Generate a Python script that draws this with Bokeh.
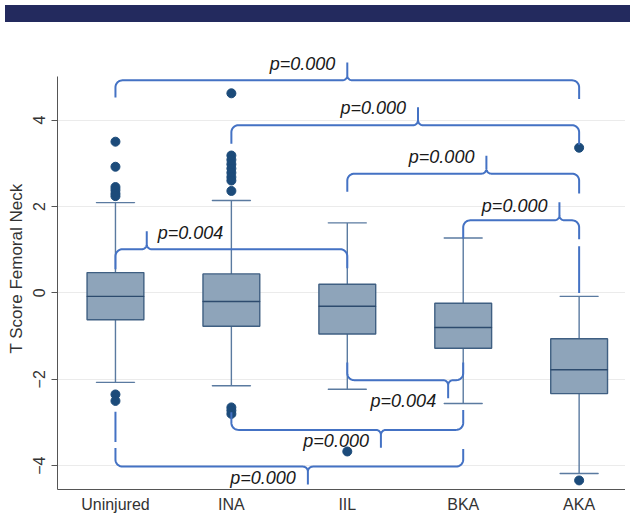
import numpy as np
from bokeh.plotting import figure
from bokeh.models import FixedTicker, Range1d, Div, ColumnDataSource
from bokeh.layouts import column
from bokeh.embed import file_html
from bokeh.resources import INLINE
from bokeh.core.properties import value

# ---------------- data ----------------
categories = ["Uninjured", "INA", "IIL", "BKA", "AKA"]
lower_whisker = [-2.07, -2.15, -2.23, -2.56, -4.18]
q1 = [-0.62, -0.77, -0.95, -1.28, -2.33]
median = [-0.08, -0.20, -0.31, -0.80, -1.78]
q3 = [0.47, 0.44, 0.20, -0.24, -1.06]
upper_whisker = [2.09, 2.14, 1.62, 1.27, -0.08]

outlier_group = (["Uninjured"] * 8 + ["INA"] * 12 + ["IIL"] + ["AKA"] * 2)
outlier_value = [3.50, 2.92, 2.45, 2.38, 2.30, 2.24, -2.35, -2.50,
                 4.62, 3.18, 3.08, 2.98, 2.88, 2.78, 2.68, 2.60, 2.36, -2.65, -2.72, -2.80,
                 -3.67,
                 3.36, -4.34]

y_ticks = [-4, -2, 0, 2, 4]
y_axis_top = 5.0

# significance brackets (annotations)
bracket_left = ["Uninjured", "INA", "IIL", "Uninjured", "BKA", "IIL", "INA", "Uninjured"]
bracket_right = ["AKA", "AKA", "AKA", "IIL", "AKA", "BKA", "BKA", "BKA"]
bracket_level = [4.92, 3.88, 2.76, 1.01, 1.68, -2.02, -3.17, -4.02]
bracket_end_left = [4.52, 3.45, 2.34, 0.55, 1.26, -1.61, -2.76, -3.59]
bracket_end_right = [4.49, 3.43, 2.30, 0.57, 1.24, -1.61, -2.71, -3.61]
bracket_tip = [3.00, 3.61, 4.20, 1.27, 4.83, 3.87, 3.29, 2.66]
bracket_dir = [1, 1, 1, 1, 1, -1, -1, -1]
bracket_label = ["p=0.000", "p=0.000", "p=0.000", "p=0.004", "p=0.000",
                 "p=0.004", "p=0.000", "p=0.000"]
label_side = ["left", "left", "left", "right", "left", "left", "left", "left"]
label_dy = [16, 17, 17, 16, 14, -21, -11, -11]

extra_seg_x = ["AKA", "Uninjured"]
extra_seg_y0 = [1.08, -2.75]
extra_seg_y1 = [0.00, -3.45]

# ---------------- styles ----------------
BOX_FILL = "#8ea4ba"
BOX_LINE = "#3f5f82"
MED_LINE = "#2d4b6e"
WHISK = "#5a7aa0"
DOT = "#1c4b7a"
BRACE = "#4472c4"
FONT = "Liberation Sans"

xi = {c: i + 1 for i, c in enumerate(categories)}
xs = [xi[c] for c in categories]

X0, X1 = 0.5, 5.40
Y0, Y1 = -4.55, 5.68
p = figure(width=625, height=488, x_range=Range1d(X0, X1), y_range=Range1d(Y0, Y1),
           output_backend="svg", toolbar_location=None,
           min_border_left=57, min_border_right=0, min_border_top=20, min_border_bottom=24)
p.outline_line_color = None

# approximate pixel scales for brace curves
PX_X = 568 / (X1 - X0)
PX_Y = 443 / (Y1 - Y0)

# grid
p.xgrid.grid_line_color = None
p.ygrid.grid_line_color = "#ebebeb"
p.ygrid.ticker = FixedTicker(ticks=y_ticks)

# axes
p.xaxis.ticker = FixedTicker(ticks=xs)
p.xaxis.major_label_overrides = {xi[c]: c for c in categories}
p.xaxis.major_tick_out = 0
p.xaxis.major_tick_in = 0
p.xaxis.minor_tick_line_color = None
p.xaxis.axis_line_color = "#555555"
p.xaxis.major_label_text_font = FONT
p.xaxis.major_label_text_font_size = "16px"
p.xaxis.major_label_text_color = "#333333"
p.xaxis.major_label_standoff = 6

p.yaxis.ticker = FixedTicker(ticks=y_ticks)
p.yaxis.bounds = (Y0, y_axis_top)
p.yaxis.major_label_orientation = "parallel"
p.yaxis.major_tick_out = 6
p.yaxis.major_tick_in = 0
p.yaxis.minor_tick_line_color = None
p.yaxis.axis_line_color = "#555555"
p.yaxis.major_tick_line_color = "#555555"
p.yaxis.major_label_text_font = FONT
p.yaxis.major_label_text_font_size = "16px"
p.yaxis.major_label_text_color = "#333333"
p.yaxis.major_label_standoff = 6
p.yaxis.axis_label = "T Score Femoral Neck"
p.yaxis.axis_label_text_font = FONT
p.yaxis.axis_label_text_font_size = "17px"
p.yaxis.axis_label_text_font_style = "normal"
p.yaxis.axis_label_text_color = "#333333"
p.yaxis.axis_label_standoff = 5

# boxes
src = ColumnDataSource(dict(x=xs, lw=lower_whisker, q1=q1, med=median, q3=q3, uw=upper_whisker))
BW = 0.49
CW = 0.33
p.segment(x0="x", y0="q3", x1="x", y1="uw", source=src, line_color=WHISK, line_width=1.4)
p.segment(x0="x", y0="q1", x1="x", y1="lw", source=src, line_color=WHISK, line_width=1.4)
p.rect(x="x", y="uw", width=CW, height=0.0001, source=src, fill_alpha=0, line_color=WHISK, line_width=1.4)
p.rect(x="x", y="lw", width=CW, height=0.0001, source=src, fill_alpha=0, line_color=WHISK, line_width=1.4)
p.vbar(x="x", width=BW, bottom="q1", top="q3", source=src,
       fill_color=BOX_FILL, line_color=BOX_LINE, line_width=1.4)
p.rect(x="x", y="med", width=BW, height=0.0001, source=src, fill_alpha=0, line_color=MED_LINE, line_width=1.4)

# outliers
p.scatter([xi[g] for g in outlier_group], outlier_value, size=9, color=DOT)


# braces
def brace(xl, xr, level, yl, yr, xt, s, n=12):
    rxe, rye = 7 / PX_X, 7 / PX_Y
    rxt, ryt = 5 / PX_X, 5 / PX_Y
    th = 18 / PX_Y
    t = np.linspace(0, np.pi / 2, n)
    X = [xl]
    Y = [yl]
    cx, cy = xl + rxe, level - s * rye
    X += list(cx - rxe * np.cos(t)); Y += list(cy + s * rye * np.sin(t))
    cx, cy = xt - rxt, level + s * ryt
    X += list(cx + rxt * np.sin(t)); Y += list(cy - s * ryt * np.cos(t))
    X += [xt]; Y += [level + s * th]
    t2 = t[::-1]
    cx, cy = xt + rxt, level + s * ryt
    X += list(cx - rxt * np.sin(t2)); Y += list(cy - s * ryt * np.cos(t2))
    cx, cy = xr - rxe, level - s * rye
    X += list(cx + rxe * np.cos(t2)); Y += list(cy + s * rye * np.sin(t2))
    X += [xr]; Y += [yr]
    return X, Y


bx, by = [], []
for i in range(len(bracket_level)):
    X, Y = brace(xi[bracket_left[i]], xi[bracket_right[i]], bracket_level[i],
                 bracket_end_left[i], bracket_end_right[i], bracket_tip[i], bracket_dir[i])
    bx.append(X)
    by.append(Y)
p.multi_line(bx, by, line_color=BRACE, line_width=2)
p.segment(x0=[xi[c] for c in extra_seg_x], y0=extra_seg_y0,
          x1=[xi[c] for c in extra_seg_x], y1=extra_seg_y1, line_color=BRACE, line_width=2)

# labels
lab_xoff = [-12 if s == "left" else 11 for s in label_side]
lab_align = ["right" if s == "left" else "left" for s in label_side]
lsrc = ColumnDataSource(dict(x=bracket_tip, y=bracket_level, text=bracket_label, xo=lab_xoff,
                             yo=[-d for d in label_dy], al=lab_align))
p.text(x="x", y="y", text="text", x_offset="xo", y_offset="yo", text_align="al",
       text_baseline="middle", source=lsrc, text_font=value(FONT),
       text_font_style="italic", text_font_size="18px", text_color="#1a1a1a")

band = Div(text="", width=625, height=17, styles={"background-color": "#232a5e"})
layout = column(band, p)

open("out.html", "w").write(file_html(layout, INLINE))
